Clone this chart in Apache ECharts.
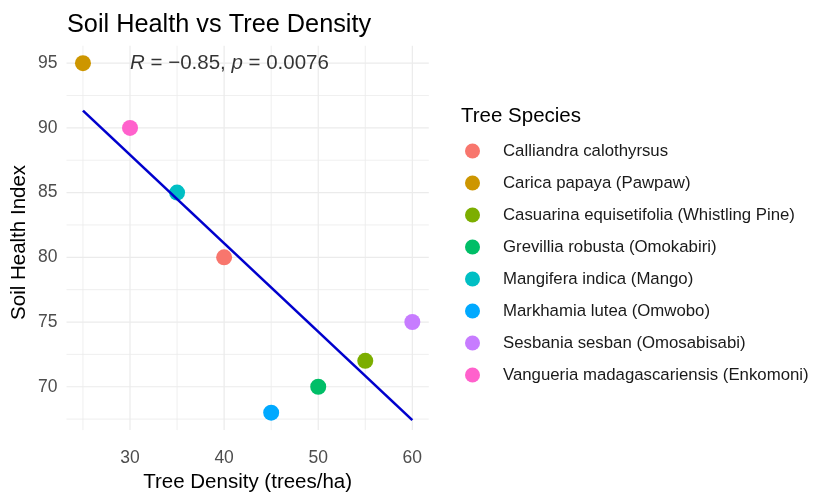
<!DOCTYPE html>
<html>
<head>
<meta charset="utf-8">
<script src="https://cdn.jsdelivr.net/npm/echarts@6/dist/echarts.min.js"></script>
<style>html,body{margin:0;padding:0;background:#fff}#c{width:829px;height:498px}</style>
</head>
<body>
<div id="c"></div>
<script>
const species = [
  "Calliandra calothyrsus",
  "Carica papaya (Pawpaw)",
  "Casuarina equisetifolia (Whistling Pine)",
  "Grevillia robusta (Omokabiri)",
  "Mangifera indica (Mango)",
  "Markhamia lutea (Omwobo)",
  "Sesbania sesban (Omosabisabi)",
  "Vangueria madagascariensis (Enkomoni)"
];
const treeDensity = [40, 25, 55, 50, 35, 45, 60, 30];
const soilHealth = [80, 95, 72, 70, 85, 68, 75, 90];
const colors = ["#F8766D", "#CD9600", "#7CAE00", "#00BE67", "#00BFC4", "#00A9FF", "#C77CFF", "#FF61CC"];
const xTicks = [30, 40, 50, 60];
const yTicks = [70, 75, 80, 85, 90, 95];
const xMinorGrid = [25, 35, 45, 55];
const yMinorGrid = [67.5, 72.5, 77.5, 82.5, 87.5, 92.5];
const corrLabel = { R: "-0.85", p: "0.0076" };
const corrLabelPos = [30, 95];

// linear regression from the data
const n = treeDensity.length;
const mx = treeDensity.reduce((a, b) => a + b, 0) / n;
const my = soilHealth.reduce((a, b) => a + b, 0) / n;
let sxy = 0, sxx = 0;
for (let i = 0; i < n; i++) { sxy += (treeDensity[i] - mx) * (soilHealth[i] - my); sxx += (treeDensity[i] - mx) ** 2; }
const slope = sxy / sxx, icpt = my - slope * mx;
const xLo = Math.min(...treeDensity), xHi = Math.max(...treeDensity);
const fitLine = [[xLo, icpt + slope * xLo], [xHi, icpt + slope * xHi]];

const xPad = (xHi - xLo) * 0.05;
const yLo = Math.min(...soilHealth), yHi = Math.max(...soilHealth);
const yPad = (yHi - yLo) * 0.05;
const xMin = xLo - xPad, xMax = xHi + xPad, yMin = yLo - yPad, yMax = yHi + yPad;

const FONT = "Liberation Sans, Arial, sans-serif";

const series = [];
function gridSeries(pts, width) {
  series.push({
    type: "line", data: pts, symbol: "none", silent: true, z: 0,
    connectNulls: false,
    lineStyle: { color: "#EBEBEB", width: width, type: "solid" }
  });
}
function vLines(vals, w) {
  const pts = [];
  vals.forEach(v => { pts.push([v, yMin], [v, yMax], null); });
  gridSeries(pts, w);
}
function hLines(vals, w) {
  const pts = [];
  vals.forEach(v => { pts.push([xMin, v], [xMax, v], null); });
  gridSeries(pts, w);
}
vLines(xMinorGrid, 0.8); hLines(yMinorGrid, 0.8);
vLines(xTicks, 1.2); hLines(yTicks, 1.2);

species.forEach((s, i) => {
  series.push({
    name: s, type: "scatter", symbol: "circle", symbolSize: 16, z: 2,
    itemStyle: { color: colors[i], opacity: 1 },
    data: [[treeDensity[i], soilHealth[i]]]
  });
});
series.push({
  type: "line", data: fitLine, symbol: "none", z: 3, silent: true,
  lineStyle: { color: "#0000CD", width: 2.6 }
});
series.push({
  type: "scatter", symbolSize: 0, z: 4, silent: true,
  data: [corrLabelPos],
  label: {
    show: true, position: "right", distance: 0,
    formatter: "{i|R} = \u2212" + corrLabel.R.replace("-", "") + ", {i|p} = " + corrLabel.p,
    color: "#000", fontSize: 20.5, fontFamily: FONT,
    rich: { i: { fontStyle: "italic", fontSize: 20.5, color: "#000", fontFamily: FONT } }
  }
});

const chart = echarts.init(document.getElementById("c"), null, { renderer: "canvas" });
chart.setOption({
  animation: false,
  backgroundColor: "#fff",
  title: [
    { text: "Soil Health vs Tree Density", left: 62, top: 8, textStyle: { fontFamily: FONT, fontSize: 25.3, fontWeight: "normal", color: "#000" } },
    { text: "Tree Species", left: 456, top: 101, textStyle: { fontFamily: FONT, fontSize: 20.5, fontWeight: "normal", color: "#000" } }
  ],
  grid: { left: 66.5, right: 400.2, top: 45.7, bottom: 61.6, containLabel: false },
  legend: {
    orient: "vertical", left: 460, top: 137.5, icon: "circle",
    itemWidth: 15, itemHeight: 15, itemGap: 15,
    data: species,
    textStyle: { fontFamily: FONT, fontSize: 16.8, color: "#1A1A1A", padding: [0, 0, 0, 18] }
  },
  xAxis: {
    type: "value", min: xMin, max: xMax,
    name: "Tree Density (trees/ha)", nameLocation: "middle", nameGap: 38,
    nameTextStyle: { fontFamily: FONT, fontSize: 20.5, color: "#000" },
    axisLine: { show: false }, axisTick: { show: false }, splitLine: { show: false },
    axisLabel: { customValues: xTicks, fontFamily: FONT, fontSize: 17.5, color: "#4D4D4D", margin: 19 }
  },
  yAxis: {
    type: "value", min: yMin, max: yMax,
    name: "Soil Health Index", nameLocation: "middle", nameGap: 37,
    nameTextStyle: { fontFamily: FONT, fontSize: 20.5, color: "#000", padding: [0, 9, 0, 0] },
    axisLine: { show: false }, axisTick: { show: false }, splitLine: { show: false },
    axisLabel: { customValues: yTicks, fontFamily: FONT, fontSize: 17.5, color: "#4D4D4D", margin: 9 }
  },
  series: series
});
</script>
</body>
</html>
